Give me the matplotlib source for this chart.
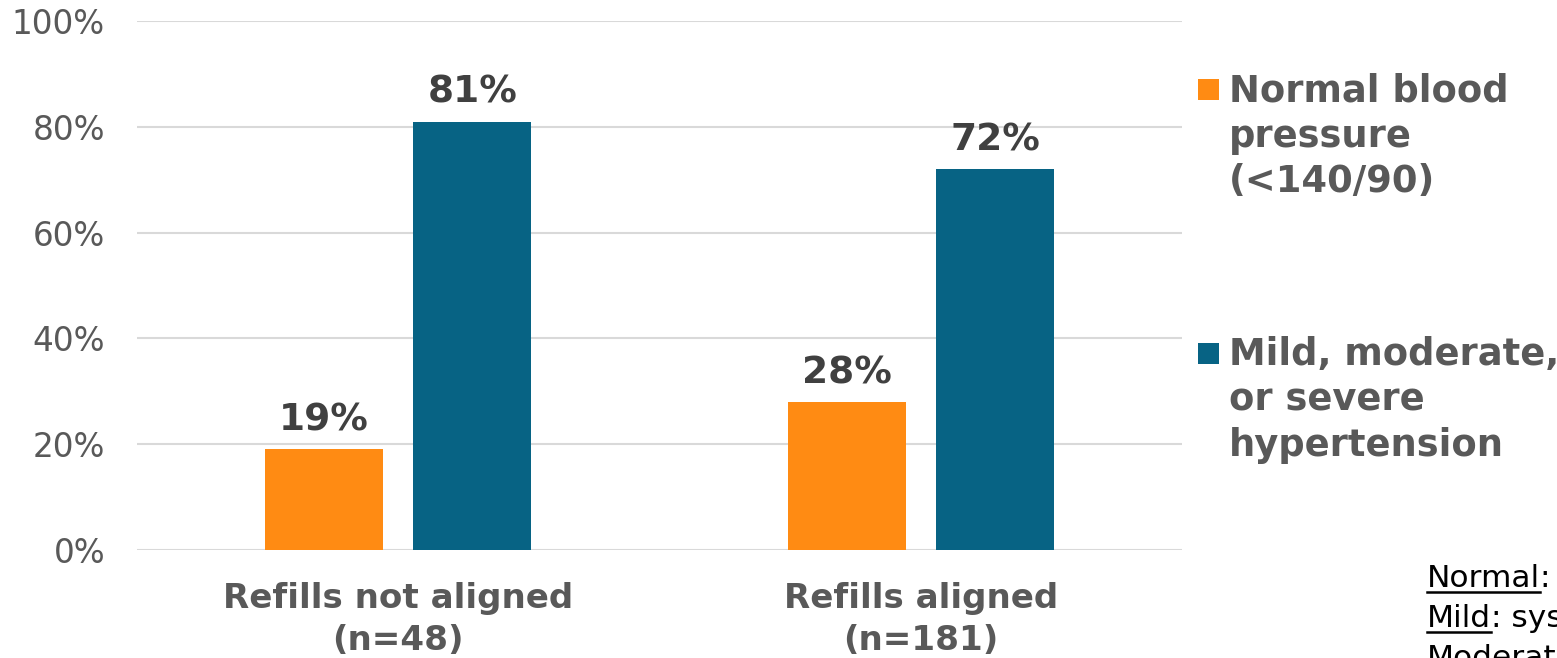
import matplotlib
matplotlib.use('Agg')
import matplotlib.pyplot as plt
from matplotlib.patches import Rectangle
from matplotlib.lines import Line2D

plt.rcParams['font.family'] = ['DejaVu Sans']

groups = ['Refills not aligned\n(n=48)', 'Refills aligned\n(n=181)']
series = ['Normal blood\npressure\n(<140/90)', 'Mild, moderate,\nor severe\nhypertension']
normal_bp = [19, 28]
hypertension = [81, 72]
colors = ['#FF8B13', '#076384']
yticks = [0, 20, 40, 60, 80, 100]

notes = [('Normal', ': systolic <140 and diastolic <90'),
         ('Mild', ': systolic 140-159 or diastolic 90-99'),
         ('Moderate', ': systolic 160-179 or diastolic 100-109')]

text_gray = '#595959'
label_dark = '#404040'
grid_gray = '#D9D9D9'
W, H = 1557, 658

fig = plt.figure(figsize=(W / 100, H / 100), dpi=100)
ax = fig.add_axes([137 / W, 108 / H, 1045 / W, 529 / H])

x = list(range(len(groups)))
width = 0.226
offset = 0.142
for vals, color, sign in [(normal_bp, colors[0], -1), (hypertension, colors[1], 1)]:
    pos = [i + sign * offset for i in x]
    bars = ax.bar(pos, vals, width=width, color=color, zorder=3)
    for b, v in zip(bars, vals):
        ax.annotate(f'{v}%', (b.get_x() + b.get_width() / 2, v),
                    xytext=(0, 13.5), textcoords='offset points',
                    ha='center', va='baseline', fontsize=27,
                    fontweight='bold', color=label_dark)

ax.set_xlim(-0.5, 1.5)
ax.set_ylim(0, 100)
ax.set_yticks(yticks)
ax.set_yticklabels([f'{t}%' for t in yticks])
ax.set_xticks(x)
ax.set_xticklabels(groups, fontsize=24.6, fontweight='bold', color=text_gray,
                   linespacing=1.36)
ax.tick_params(axis='y', length=0, pad=23, labelsize=23.5, labelcolor=text_gray)
ax.tick_params(axis='x', length=0, pad=23)
ax.grid(axis='y', color=grid_gray, linewidth=1.5, zorder=0)
for s in ax.spines.values():
    s.set_visible(False)

# legend: square key next to the first line of each label
key_tops = [79, 343]
for name, color, top in zip(series, colors, key_tops):
    fig.add_artist(Rectangle((1198 / W, 1 - (top + 21) / H), 21 / W, 21 / H,
                             facecolor=color, edgecolor='none',
                             transform=fig.transFigure))
    fig.text(1229 / W, 1 - (top - 7) / H, name, fontsize=26.6,
             fontweight='bold', color=text_gray, ha='left', va='top',
             linespacing=1.3)

# footnote with underlined terms, clipped at the right edge
fig.canvas.draw()
renderer = fig.canvas.get_renderer()
baselines = [587, 627, 667]
for (term, rest), yb in zip(notes, baselines):
    yp = H - yb
    t = fig.text(1427 / W, yp / H, term, fontsize=22.5, color='black',
                 va='baseline', ha='left')
    bb = t.get_window_extent(renderer)
    fig.text(bb.x1 / W, yp / H, rest, fontsize=22.5, color='black',
             va='baseline', ha='left')
    fig.add_artist(Line2D([bb.x0, bb.x1], [yp - 5, yp - 5], color='black',
                          linewidth=1.8, transform=None))

fig.savefig('out.png', dpi=100)
